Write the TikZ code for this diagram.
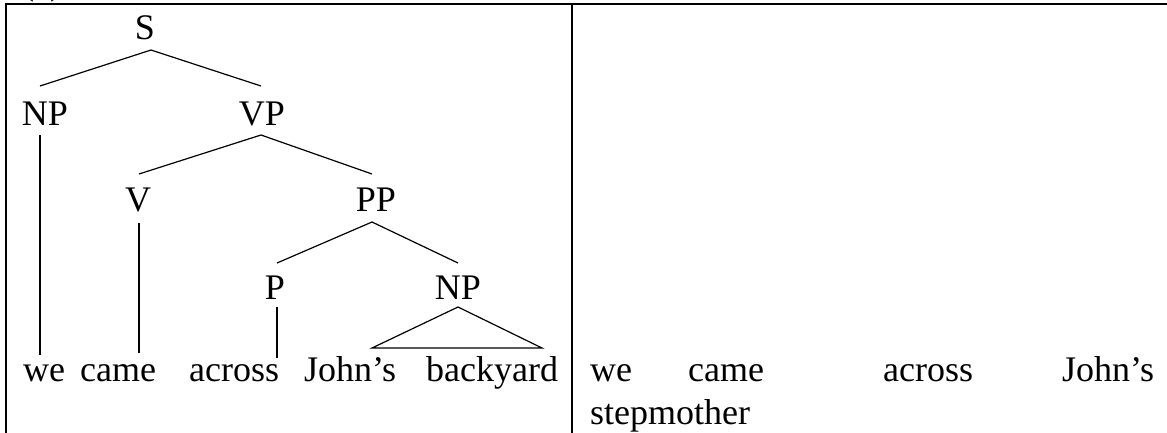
\documentclass[tikz,border=0pt]{standalone}
\usepackage{fontspec}
\setmainfont{Liberation Serif}
\begin{document}
\begin{tikzpicture}[x=1pt,y=-1pt,
  lbl/.style={inner sep=0pt, anchor=base, font=\fontsize{36}{43}\selectfont},
  wd/.style={inner sep=0pt, anchor=base west, font=\fontsize{36}{43}\selectfont},
  branch/.style={line width=1.2pt},
  frame/.style={line width=1.4pt}]
\useasboundingbox (0,0) rectangle (1167,432);
% partly visible caption above the frame
\begin{scope}
  \clip (0,0) rectangle (1167,432);
  \node[wd] (cap) at (22,-6) {(a)};
\end{scope}
% table frame
\coordinate (fbl) at (6,440);
\coordinate (ftl) at (6,4);
\coordinate (ftr) at (1175,4);
\coordinate (dtop) at (572,4);
\coordinate (dbot) at (572,440);
\draw[frame] (fbl) -- (ftl) -- (ftr);
\draw[frame] (dtop) -- (dbot);
% tree labels
\node[lbl] (S) at (145,39) {S};
\node[lbl] (NPa) at (45,125) {NP};
\node[lbl] (VP) at (262,125) {VP};
\node[lbl] (V) at (138,211) {V};
\node[lbl] (PP) at (376,211) {PP};
\node[lbl] (P) at (275,299) {P};
\node[lbl] (NPb) at (458,299) {NP};
% words, left cell
\node[wd] (w1) at (23,381) {we};
\node[wd] (w2) at (80,381) {came};
\node[wd] (w3) at (189,381) {across};
\node[wd] (w4) at (304,381) {John’s};
\node[wd] (w5) at (426,381) {backyard};
% words, right cell
\node[wd] (r1) at (590,381) {we};
\node[wd] (r2) at (688,381) {came};
\node[wd] (r3) at (883,381) {across};
\node[wd] (r4) at (1062,381) {John’s};
\node[wd] (r5) at (590,424) {stepmother};
% branch points
\coordinate (Sb) at (151,50);
\coordinate (NPat) at (40,86);
\coordinate (VPt) at (261,86);
\coordinate (VPb) at (261,135);
\coordinate (Vt) at (139,174);
\coordinate (PPt) at (372,174);
\coordinate (PPb) at (372,222);
\coordinate (Pt) at (277,263);
\coordinate (NPbt) at (458,263);
\coordinate (NPab) at (40,135);
\coordinate (w1t) at (40,355);
\coordinate (Vb) at (139,223);
\coordinate (w2t) at (139,353);
\coordinate (Pb) at (277,307);
\coordinate (w3t) at (277,358);
\coordinate (NPbb) at (458,307);
\coordinate (triL) at (372,348);
\coordinate (triR) at (542,348);
\draw[branch] (NPat) -- (Sb) -- (VPt);
\draw[branch] (Vt) -- (VPb) -- (PPt);
\draw[branch] (Pt) -- (PPb) -- (NPbt);
\draw[branch] (NPab) -- (w1t);
\draw[branch] (Vb) -- (w2t);
\draw[branch] (Pb) -- (w3t);
\draw[branch] (NPbb) -- (triL) -- (triR) -- cycle;
\end{tikzpicture}
\end{document}
